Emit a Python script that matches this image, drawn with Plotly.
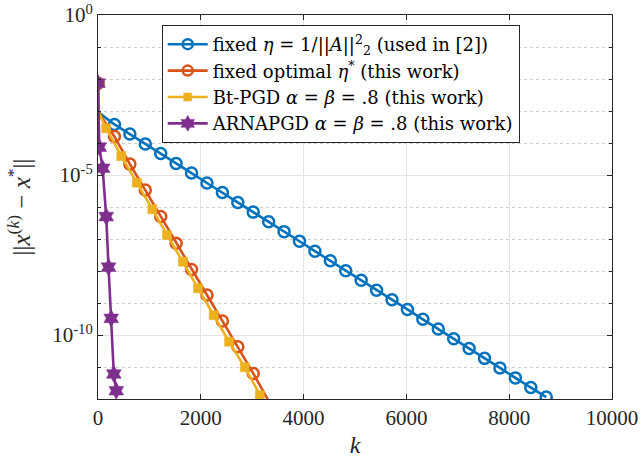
import plotly.graph_objects as go

# ---- data (log10 of error) ----
blue_k = [0, 15] + [320 + 300 * i for i in range(29)]
blue_log = [-2.13, -3.05,
            -3.42, -3.72, -4.03, -4.33, -4.64, -4.94, -5.25, -5.55, -5.86, -6.16,
            -6.46, -6.77, -7.07, -7.38, -7.68, -7.99, -8.29, -8.60, -8.90, -9.20,
            -9.51, -9.81, -10.12, -10.42, -10.73, -11.03, -11.34, -11.64, -11.94]

orange_k = [0, 15, 320, 620, 920, 1220, 1520, 1820, 2120, 2420, 2720, 3020, 3330]
orange_log = [-2.13, -3.05, -3.80, -4.66, -5.47, -6.30, -7.13, -7.95, -8.75,
              -9.56, -10.37, -11.20, -12.09]

yellow_k = [0, 15, 160, 452, 756, 1057, 1341, 1653, 1945, 2251, 2550, 2856, 3148, 3250]
yellow_log = [-2.13, -3.05, -3.54, -4.41, -5.24, -6.07, -6.88, -7.71, -8.54,
              -9.38, -10.21, -11.01, -11.88, -12.16]

purple_k = [0, 25, 90, 160, 205, 257, 308, 355]
purple_log = [-2.13, -4.13, -4.79, -6.30, -7.88, -9.48, -11.22, -11.74]

names = ["fixed <i>η</i> = 1/||<i>A</i>||<sup>2</sup><sub>2</sub> (used in [2])",
         "fixed optimal <i>η</i><sup>*</sup> (this work)",
         "Bt-PGD <i>α</i> = <i>β</i> = .8 (this work)",
         "ARNAPGD <i>α</i> = <i>β</i> = .8 (this work)"]

x_tickvals = [0, 2000, 4000, 6000, 8000, 10000]
x_ticktext = ["0", "2000", "4000", "6000", "8000", "10000"]
y_tickvals = [1e0, 1e-5, 1e-10]
y_ticktext = ["10<sup>0</sup>", "10<sup>-5</sup>", "10<sup>-10</sup>"]

# ---- styling ----
colors = ["#0072BD", "#D95319", "#EDB120", "#7E2F8E"]
symbols = ["circle-open", "circle-open", "square", "hexagram"]
msizes = [11, 11, 9, 13]
series = [(blue_k, blue_log), (orange_k, orange_log),
          (yellow_k, yellow_log), (purple_k, purple_log)]
# indices of vertices that carry no marker (first-iteration kink and clipped end)
bare = [{1}, {1, len(orange_k) - 1}, {1, len(yellow_k) - 1}, set()]

FONT = "Liberation Serif"
LFONT = "DejaVu Serif"
fig = go.Figure()
for (ks, lg), c, s, ms, b, nm in zip(series, colors, symbols, msizes, bare, names):
    ys = [10 ** v for v in lg]
    sizes = [0 if i in b else ms for i in range(len(ks))]
    mline = dict(color=c, width=2.5 if "open" in s else 0.5)
    fig.add_trace(go.Scatter(
        x=ks, y=ys, mode="lines+markers", showlegend=False,
        line=dict(color=c, width=2.6),
        marker=dict(symbol=s, size=sizes, color=c, line=mline, opacity=1),
        cliponaxis=True))
    fig.add_trace(go.Scatter(
        x=[None], y=[None], mode="lines+markers", name=nm,
        line=dict(color=c, width=2.6),
        marker=dict(symbol=s, size=ms - 1, color=c, line=mline, opacity=1)))

axis_col = "#262626"
fig.update_xaxes(
    range=[0, 10000], tickvals=x_tickvals, ticktext=x_ticktext,
    ticks="inside", ticklen=5, automargin=False,
    tickcolor=axis_col, showline=True, linecolor=axis_col, linewidth=1,
    mirror="ticks", showgrid=True, gridcolor="#e3e3e3", gridwidth=1,
    zeroline=False,
    tickfont=dict(family=FONT, size=21, color=axis_col),
    title=dict(text="<i>k</i>", font=dict(family=FONT, size=24, color=axis_col),
               standoff=6))
fig.update_yaxes(
    type="log", range=[-12, 0], tickvals=y_tickvals, ticktext=y_ticktext,
    ticks="inside", ticklen=5, tickcolor=axis_col, showline=True,
    automargin=False,
    linecolor=axis_col, linewidth=1, mirror="ticks",
    showgrid=True, gridcolor="#e3e3e3", gridwidth=1, zeroline=False,
    minor=dict(tickmode="linear", tick0=0, dtick=1, ticks="inside", ticklen=3,
               tickcolor=axis_col, showgrid=True, gridcolor="#cfcfcf",
               griddash="dot", gridwidth=1),
    tickfont=dict(family=FONT, size=21, color=axis_col),
    title=dict(text="||<i>x</i><sup>(<i>k</i>)</sup> − <i>x</i><sup>*</sup>||",
               font=dict(family=FONT, size=25, color=axis_col), standoff=14))

fig.update_layout(
    width=642, height=462,
    margin=dict(l=98, r=30, t=15, b=63),
    paper_bgcolor="white", plot_bgcolor="white",
    legend=dict(x=0.124, y=0.974, xanchor="left", yanchor="top",
                bgcolor="white", bordercolor=axis_col, borderwidth=1,
                font=dict(family=LFONT, size=18, color="#000000"),
                tracegroupgap=0, itemwidth=40),
    showlegend=True)

fig.write_html("out.html", config={"displayModeBar": False},
               post_script="document.body.style.margin='0px';")
